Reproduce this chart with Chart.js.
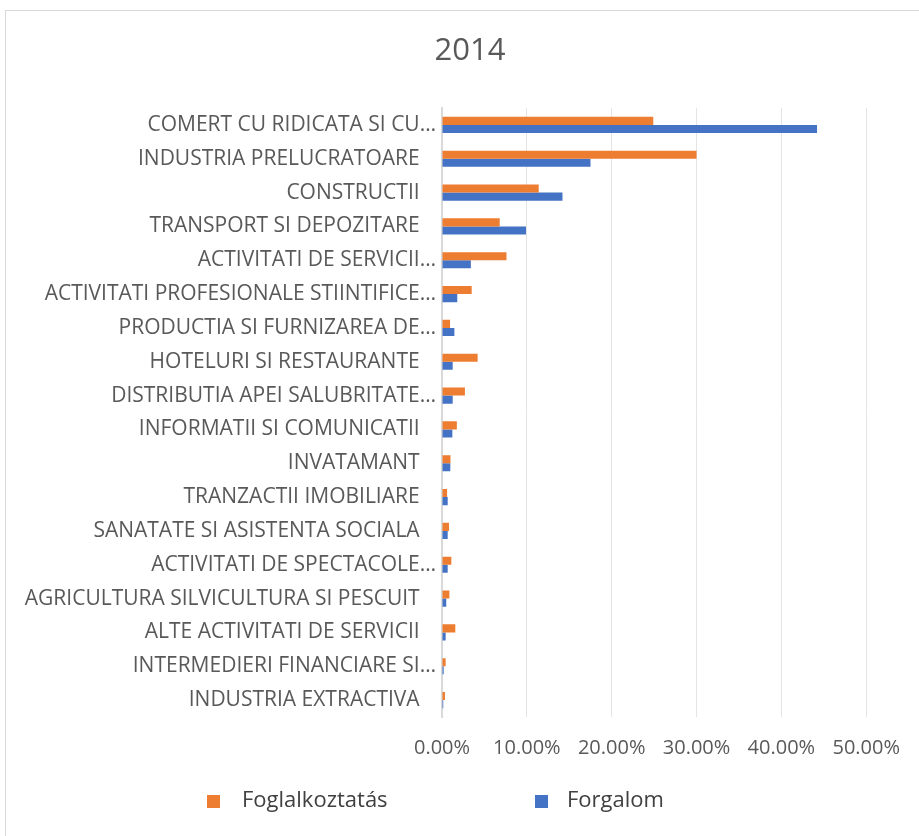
<!DOCTYPE html>
<html>
<head>
<meta charset="utf-8">
<script src="https://cdn.jsdelivr.net/npm/chart.js@4/dist/chart.umd.min.js"></script>
<style>
  html, body { margin: 0; padding: 0; background: #fff; }
  #wrap { position: relative; width: 919px; height: 836px; }
  #frame { position: absolute; left: 5px; top: 10px; width: 930px; height: 840px; border: 1px solid #d9d9d9; box-sizing: border-box; }
  canvas { position: absolute; left: 0; top: 0; }
</style>
</head>
<body>
<div id="wrap">
  <div id="frame"></div>
  <canvas id="mycanvas" width="919" height="836"></canvas>
</div>
<script>
var categories = [
  "COMERT CU RIDICATA SI CU…",
  "INDUSTRIA PRELUCRATOARE",
  "CONSTRUCTII",
  "TRANSPORT SI DEPOZITARE",
  "ACTIVITATI DE SERVICII…",
  "ACTIVITATI PROFESIONALE STIINTIFICE…",
  "PRODUCTIA SI FURNIZAREA DE…",
  "HOTELURI SI RESTAURANTE",
  "DISTRIBUTIA APEI SALUBRITATE…",
  "INFORMATII SI COMUNICATII",
  "INVATAMANT",
  "TRANZACTII IMOBILIARE",
  "SANATATE SI ASISTENTA SOCIALA",
  "ACTIVITATI DE SPECTACOLE…",
  "AGRICULTURA SILVICULTURA SI PESCUIT",
  "ALTE ACTIVITATI DE SERVICII",
  "INTERMEDIERI FINANCIARE SI…",
  "INDUSTRIA EXTRACTIVA"
];

// percent values
var foglalkoztatas = [24.9, 30.0, 11.4, 6.8, 7.6, 3.5, 0.95, 4.2, 2.7, 1.75, 1.0, 0.6, 0.83, 1.1, 0.87, 1.57, 0.43, 0.35];
var forgalom = [44.2, 17.5, 14.2, 9.9, 3.4, 1.8, 1.46, 1.26, 1.26, 1.22, 0.98, 0.67, 0.67, 0.67, 0.5, 0.43, 0.2, 0.15];

var seriesNames = ["Foglalkoztatás", "Forgalom"];
var seriesColors = ["#ED7D31", "#4472C4"];
var xTicks = [0, 10, 20, 30, 40, 50];
var chartTitle = "2014";

// title and legend drawn by hand so they sit where Excel put them
var excelBits = {
  id: 'excelBits',
  afterDraw: function(chart) {
    var ctx = chart.ctx;
    ctx.save();
    ctx.textBaseline = 'middle';

    ctx.font = '31px "Open Sans"';
    ctx.textAlign = 'center';
    ctx.fillStyle = '#595959';
    ctx.fillText(chartTitle, 470, 51);

    var pos = [[207, 242], [535, 567]];
    var y = 801;
    ctx.font = '22px "Open Sans"';
    ctx.textAlign = 'left';
    chart.data.datasets.forEach(function(ds, i) {
      ctx.fillStyle = ds.backgroundColor;
      ctx.fillRect(pos[i][0], y - 6, 13, 13);
      ctx.fillStyle = '#404040';
      ctx.fillText(ds.label, pos[i][1], y);
    });
    ctx.restore();
  }
};

var chartdata = {
  labels: categories,
  datasets: [
    { label: seriesNames[0], backgroundColor: seriesColors[0], data: foglalkoztatas },
    { label: seriesNames[1], backgroundColor: seriesColors[1], data: forgalom }
  ]
};

var ctx = document.getElementById('mycanvas');

var barGraph = new Chart(ctx, {
  type: 'bar',
  data: chartdata,
  plugins: [excelBits],
  options: {
    indexAxis: 'y',
    responsive: false,
    animation: false,
    layout: { padding: { left: 5, right: 52, top: 108, bottom: 0 } },
    categoryPercentage: 0.48,
    barPercentage: 1.0,
    plugins: {
      legend: { display: false },
      tooltip: { enabled: false },
      title: { display: false }
    },
    scales: {
      x: {
        min: 0,
        max: 50,
        afterBuildTicks: function(scale) {
          scale.ticks = xTicks.map(function(v) { return { value: v }; });
        },
        afterFit: function(scale) { scale.height = 119; },
        grid: { color: '#e4e4e4', lineWidth: 1, drawTicks: false },
        border: { display: false },
        ticks: {
          padding: 19,
          color: '#595959',
          font: { family: 'Open Sans', size: 20 },
          callback: function(v) { return v.toFixed(2) + '%'; }
        }
      },
      y: {
        afterFit: function(scale) { scale.width = 437; },
        grid: { display: false, drawTicks: false },
        border: { display: true, color: '#d9d9d9', width: 2 },
        ticks: {
          padding: 6,
          color: '#595959',
          autoSkip: false,
          font: { family: 'Open Sans', size: 21 },
          callback: function(v) {
            var s = this.getLabelForValue(v);
            // full names sit a little left of the cut ones, as in Excel
            return s.slice(-1) === '…' ? s : s + '   ';
          }
        }
      }
    }
  }
});
</script>
</body>
</html>
